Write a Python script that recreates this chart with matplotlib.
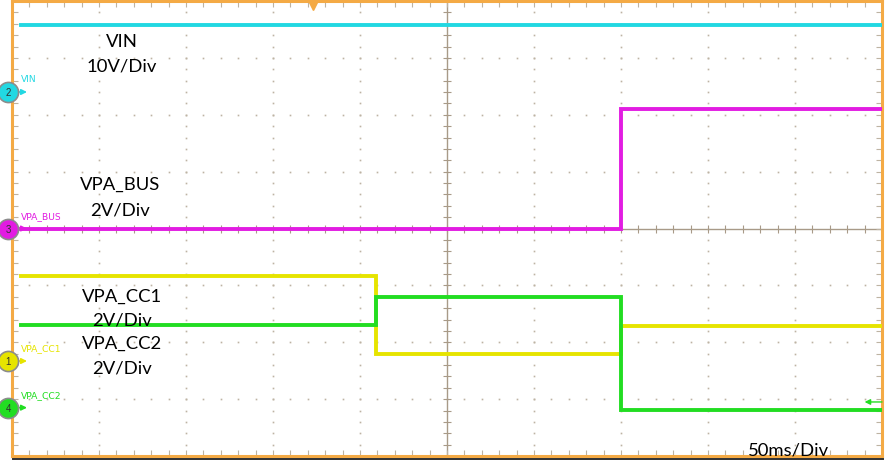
import matplotlib
matplotlib.use("Agg")
import matplotlib.pyplot as plt
import matplotlib.transforms as mtransforms
from matplotlib.lines import Line2D
import numpy as np

W, H = 888, 464

# time axis: 50 ms/div, 10 divisions, trigger at 0
t_edges = [-245, -41, 100, 250]

# trace levels (volts) on each segment between the edges
vin_volts = [11.8, 11.8, 11.8]
bus_volts = [0.0, 0.0, 4.2]
cc1_volts = [3.0, 0.26, 1.24]
cc2_volts = [2.9, 3.9, -0.08]

names = ["VIN", "VPA_BUS", "VPA_CC1", "VPA_CC2"]
numbers = ["2", "3", "1", "4"]
volts_per_div = [10, 2, 2, 2]
ground_div = [2.4, 0.0, -2.33, -3.15]
notes = [("VIN", "10V/Div"), ("VPA_BUS", "2V/Div"), ("VPA_CC1", "2V/Div"), ("VPA_CC2", "2V/Div")]
trigger_ms = -77

colors = ["#22D8E2", "#E21CE2", "#E6E400", "#22DD22"]
ORANGE = "#F4AA45"
GRID = "#BDB3A3"

fig = plt.figure(figsize=(W / 100, H / 100), dpi=100)
fig.patch.set_facecolor("white")


def fx(px):
    return px / W


def fy(py):
    return 1 - py / H


ax = fig.add_axes([fx(12), fy(457), fx(882) - fx(12), fy(2) - fy(457)])
ax.set_xlim(-250, 250)
ax.set_ylim(-4, 4)
ax.set_xticks(np.arange(-250, 251, 10))
ax.set_yticks(np.arange(-4, 4.01, 0.2))
ax.tick_params(direction="in", length=4, width=0.8, color=GRID,
               top=True, right=True, labelbottom=False, labelleft=False)
for s in ax.spines.values():
    s.set_color(ORANGE)
    s.set_linewidth(2.2)

# dotted graticule
gx = np.arange(-250, 251, 10)
for yy in range(-3, 4):
    if yy != 0:
        ax.plot(gx, np.full(len(gx), yy), ls="none", marker="s", ms=1.2, color=GRID, mew=0)
gy = np.arange(-4, 4.01, 0.2)
for xx in range(-200, 201, 50):
    if xx != 0:
        ax.plot(np.full(len(gy), xx), gy, ls="none", marker="s", ms=1.2, color=GRID, mew=0)

# centre cross with ticks
ax.axhline(0, color="#A89A88", lw=1.0, zorder=1)
ax.axvline(0, color="#A89A88", lw=1.0, zorder=1)
ax.plot(gx, np.zeros(len(gx)), ls="none", marker="|", ms=6, mew=0.8, color="#A89A88")
ax.plot(np.zeros(len(gy)), gy, ls="none", marker="_", ms=6, mew=0.8, color="#A89A88")

# traces
series = [vin_volts, bus_volts, cc1_volts, cc2_volts]
for i in range(4):
    vals = np.array(series[i] + [series[i][-1]]) / volts_per_div[i] + ground_div[i]
    ax.plot(t_edges, vals, drawstyle="steps-post", color=colors[i], lw=2.8,
            solid_joinstyle="miter", zorder=3 + (1 if i == 3 else 0))

# channel ground markers
bt = mtransforms.blended_transform_factory(ax.transAxes, ax.transData)
mx = -4 / 870
for i in range(4):
    g = ground_div[i]
    ax.annotate("", xy=(15 / 870, g), xytext=(2 / 870, g), xycoords=bt, textcoords=bt,
                arrowprops=dict(arrowstyle="-|>", color=colors[i], lw=1.2,
                                mutation_scale=8, shrinkA=0, shrinkB=0),
                annotation_clip=False, zorder=6)
    ax.plot([mx], [g], marker="o", ms=14.5, mfc=colors[i], mec="#8C8C8C", mew=1.2,
            transform=bt, clip_on=False, zorder=7)
    ax.text(mx, g, numbers[i], transform=bt, ha="center", va="center",
            fontsize=7, color="#303030", family="Liberation Sans", zorder=8, clip_on=False)
    ax.text(9 / 870, g + 0.15, names[i], transform=bt, ha="left", va="bottom",
            fontsize=6.6, color=colors[i], family="Liberation Sans Narrow", clip_on=False)

# trigger position marker
ax.plot([trigger_ms], [0.99], marker="v", ms=6, color=ORANGE,
        transform=mtransforms.blended_transform_factory(ax.transData, ax.transAxes),
        clip_on=False, zorder=8)

# trigger level arrow for channel 4
ax.annotate("", xy=(0.98, -3.05), xytext=(1.0, -3.05), xycoords=bt, textcoords=bt,
            arrowprops=dict(arrowstyle="-|>", color=colors[3], lw=1.0, mutation_scale=8,
                            shrinkA=0, shrinkB=0), annotation_clip=False)

# annotations
note_pos = [(122, 42, 66), (120, 185, 211), (122, 297, 320), (122, 344, 369)]
for (a, b), (px, p1, p2) in zip(notes, note_pos):
    fig.text(fx(px), fy(p1), a, ha="center", va="center", fontsize=13.3, family="Lato")
    fig.text(fx(px), fy(p2), b, ha="center", va="center", fontsize=13.3, family="Lato")
fig.text(fx(788), fy(451), "50ms/Div", ha="center", va="center", fontsize=13.3, family="Lato", zorder=10)

fig.add_artist(Line2D([fx(13), fx(883)], [fy(459.5), fy(459.5)], color="#303030", lw=1.4))

fig.savefig("out.png", dpi=100)
